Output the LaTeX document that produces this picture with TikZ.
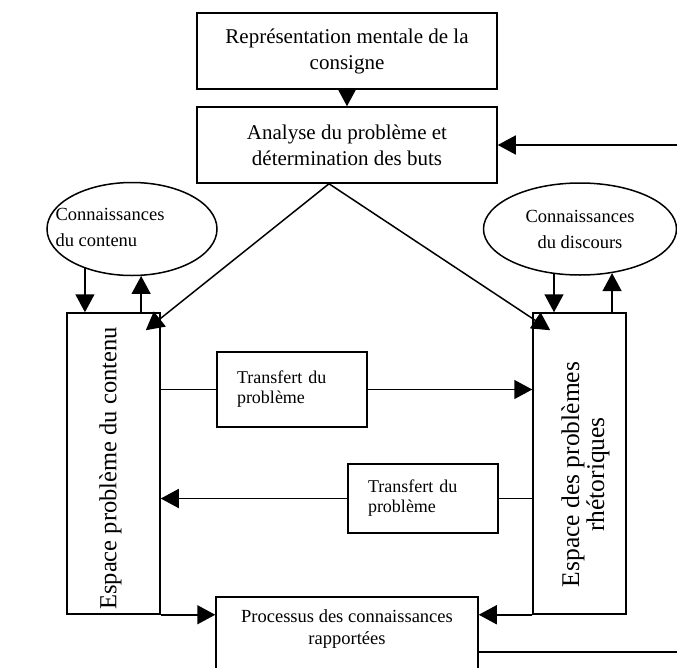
\documentclass[tikz,border=0pt]{standalone}
\usepackage{fontspec}
\setmainfont{Liberation Serif}
\usetikzlibrary{arrows.meta,shapes.geometric}

\begin{document}
\begin{tikzpicture}[x=1pt,y=-1pt,
  box/.style={draw,line width=1.5pt,align=center,inner sep=0pt,font=\fontsize{21}{26}\selectfont},
  know/.style={draw,ellipse,line width=1.5pt,inner sep=0pt,align=center,font=\fontsize{18.5}{26}\selectfont},
  txt/.style={align=center,inner sep=0pt,font=\fontsize{18.5}{22}\selectfont},
  zone/.style={draw,line width=1.5pt,minimum width=93pt,minimum height=301pt,inner sep=0pt},
  vtxt/.style={rotate=90,align=center,inner sep=0pt,font=\fontsize{25.5}{25}\selectfont},
  transf/.style={draw,line width=1.5pt,align=left,text width=110pt,minimum width=150pt,inner sep=0pt,font=\fontsize{18}{20}\selectfont},
  arr/.style={line width=1.5pt,-{Triangle[length=18pt,width=19pt]}},
  link/.style={line width=1.5pt}]
\useasboundingbox (0,0) rectangle (677,667);
\clip (0,0) rectangle (677,667);
\node[box,minimum width=300pt,minimum height=76pt] (repr) at (347,51) {Représentation mentale de la\\consigne};
\node[box,minimum width=300pt,minimum height=76pt] (anal) at (347,145) {Analyse du problème et\\détermination des buts};
\node[know,minimum width=170pt,minimum height=93pt] (kcont) at (132,229) {};
\node[txt,align=left,font=\fontsize{18.5}{26}\selectfont] (kconttxt) at ([xshift=-22pt,yshift=2pt]kcont.center) {Connaissances\\du contenu};
\node[know,minimum width=193pt,minimum height=92pt] (kdisc) at (580,229) {Connaissances\\du discours};
\node[zone] (espc) at (113.5,463.5) {};
\node[vtxt,font=\fontsize{24.5}{26}\selectfont] (espctxt) at ([xshift=-3pt,yshift=-5pt]espc.center) {Espace problème du contenu};
\node[zone] (espr) at (579.5,463.5) {};
\node[vtxt] (esprtxt) at ([xshift=6pt,yshift=-11pt]espr.center) {Espace des problèmes\\rhétoriques};
\node[transf,minimum height=75pt] (tr1) at (292,389.5) {Transfert du\\problème};
\node[transf,minimum height=69pt] (tr2) at (423,498.5) {Transfert du\\problème};
\node[box,minimum width=262pt,minimum height=90pt,anchor=north] (proc) at (347,596) {};
\node[txt] (proctxt) at (347,629) {Processus des connaissances\\rapportées};

\draw[arr] (repr) -- (anal);
\coordinate (apex) at ([xshift=-18pt]anal.south);
\coordinate (tipc) at ([xshift=-15pt,yshift=-18pt]espc.north east);
\coordinate (tipr) at ([xshift=18pt,yshift=-18pt]espr.north west);
\draw[arr] (apex) -- (tipc);
\draw[arr] (apex) -- (tipr);
\draw[arr] (kcont.-140.5) -- (kcont.-140.5 |- espc.north);
\draw[arr] (kcont.-79 |- espc.north) -- (kcont.-79);
\draw[arr] (kdisc.-120.4) -- (kdisc.-120.4 |- espr.north);
\draw[arr] (kdisc.-54.6 |- espr.north) -- (kdisc.-54.6);
\draw[link] (espc.east |- tr1.west) -- (tr1.west);
\draw[arr] (tr1.east) -- (tr1.east -| espr.west);
\draw[link] (espr.west |- tr2.east) -- (tr2.east);
\draw[arr] (tr2.west) -- (tr2.west -| espc.east);
\draw[arr] (espc.south east) -- (espc.south east -| proc.west);
\draw[arr] (espr.south west) -- (espr.south west -| proc.east);
\coordinate (fbin) at (680,145);
\coordinate (fbout) at (680,652);
\draw[arr] (fbin) -- (anal.east);
\draw[link] (proc.east |- fbout) -- (fbout);
\end{tikzpicture}
\end{document}
